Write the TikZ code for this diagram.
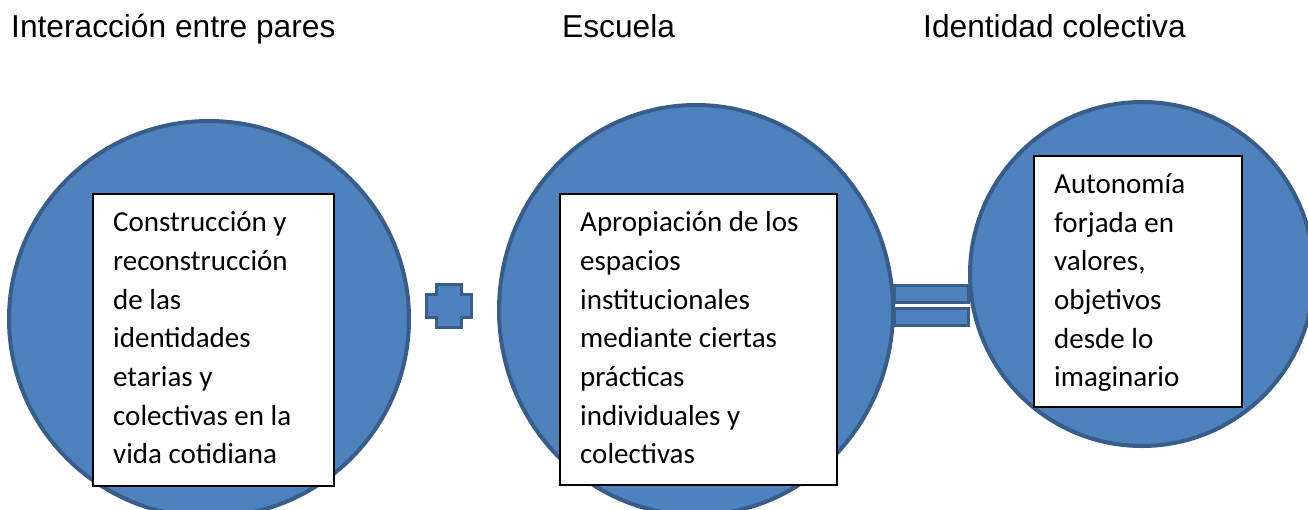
\documentclass[tikz,border=0pt]{standalone}
\usepackage{fontspec}
\setmainfont{Liberation Sans}
\newfontfamily\boxfont{Carlito}
\usetikzlibrary{shapes.geometric}
\definecolor{shapefill}{HTML}{4F81BD}
\definecolor{shapeline}{HTML}{385D8A}
\begin{document}
\begin{tikzpicture}[x=1pt,y=-1pt,
  blob/.style={ellipse, draw=shapeline, fill=shapefill, line width=4pt, inner sep=0pt},
  textbox/.style={rectangle, draw=black, fill=white, line width=2pt, inner sep=0pt},
  boxtext/.style={anchor=base west, inner sep=0pt, text width=260pt, align=flush left, font=\boxfont\fontsize{29}{38.7}\selectfont},
  title/.style={anchor=base west, inner sep=0pt, font=\fontsize{31.7}{38}\selectfont},
  sign/.style={draw=shapeline, fill=shapefill, line width=3pt}]
\useasboundingbox (0,0) rectangle (1308,509);

% titles
\node[title] (t1) at (11,37) {Interacción entre pares};
\node[title] (t2) at (562,37) {Escuela};
\node[title] (t3) at (923,37) {Identidad colectiva};

% circles
\node[blob, minimum width=400pt, minimum height=396pt] (c1) at (209,319) {};
\node[blob, minimum width=394pt, minimum height=410pt] (c2) at (696,310) {};
\node[blob, minimum width=344pt, minimum height=344pt] (c3) at (1142,274) {};

% boxes
\node[textbox, minimum width=241pt, minimum height=292pt] (b1) at (213.5,340) {};
\node[textbox, minimum width=277pt, minimum height=291pt] (b2) at (698.5,339.5) {};
\node[textbox, minimum width=208pt, minimum height=251pt] (b3) at (1138,281.5) {};

\node[boxtext] (x1) at (113,231.7) {Construcción y\\reconstrucción\\de las\\identidades\\etarias y\\colectivas en la\\vida cotidiana};
\node[boxtext] (x2) at (580,231.7) {Apropiación de los\\espacios\\institucionales\\mediante ciertas\\prácticas\\individuales y\\colectivas};
\node[boxtext] (x3) at (1054,193.3) {Autonomía\\forjada en\\valores,\\objetivos\\desde lo\\imaginario};

% plus sign
\draw[sign] (436.5,284.5) -- (461.5,284.5) -- (461.5,294.5) -- (471.5,294.5)
  -- (471.5,317.5) -- (461.5,317.5) -- (461.5,327.5) -- (436.5,327.5)
  -- (436.5,317.5) -- (426.5,317.5) -- (426.5,294.5) -- (436.5,294.5) -- cycle;

% equals sign
\draw[sign] (894.5,285.5) rectangle (968.5,302.5);
\draw[sign] (894.5,308.5) rectangle (968.5,325.5);
\end{tikzpicture}
\end{document}
